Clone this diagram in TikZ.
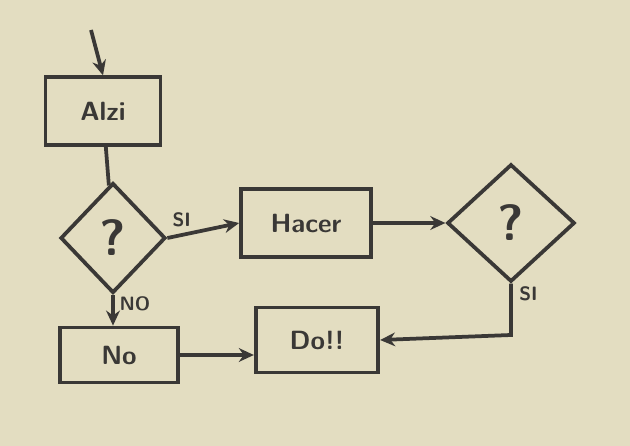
\documentclass[tikz,border=0pt]{standalone}
\usepackage{tikz}
\usetikzlibrary{positioning, arrows.meta, shapes.geometric}
\definecolor{papercolor}{RGB}{227,221,193}
\definecolor{inkcolor}{RGB}{58,56,54}

\begin{document}
\begin{tikzpicture}[x=0.4mm, y=-0.4mm,
    box/.style={draw=inkcolor, line width=1.5mm, minimum width=46mm, minimum height=26mm, inner sep=0pt, font=\sffamily\bfseries\fontsize{30}{30}\selectfont, text=inkcolor},
    ask/.style={diamond, draw=inkcolor, line width=1.5mm, inner sep=0pt, font=\sffamily\bfseries\fontsize{58}{58}\selectfont, text=inkcolor},
    flow/.style={draw=inkcolor, line width=1.5mm},
    tip/.style={-{Stealth[length=6mm, width=5.5mm]}},
    lbl/.style={font=\sffamily\bfseries\fontsize{22}{22}\selectfont, text=inkcolor},
]
    \fill[papercolor] (0,0) rectangle (630,446);
    \useasboundingbox (0,0) rectangle (630,446);
    \coordinate (entry) at (91,30);
    \node[box, minimum width=46mm, minimum height=27mm] (alzi) at (103,111) {Alzi};
    \node[ask, minimum width=42mm, minimum height=44mm] (cond1) at (113,238) {?};
    \node[box, minimum width=52mm, minimum height=27mm] (hacer) at (306,223) {Hacer};
    \node[ask, minimum width=51mm, minimum height=47mm] (cond2) at (511,223) {?};
    \node[box, minimum width=47mm, minimum height=22mm] (no) at (119,355) {No};
    \node[box, minimum width=49mm, minimum height=26mm] (doh) at (317,340) {Do!!};
    \coordinate (turn) at (511,335);
    \draw[flow, tip] (entry) -- (alzi.north);
    \draw[flow] (alzi) -- (cond1);
    \draw[flow, tip] (cond1.east) -- node[lbl, above=4pt, pos=0.2] {SI} (hacer.west);
    \draw[flow, tip] (hacer) -- (cond2);
    \draw[flow, tip] (cond1.south) -- node[lbl, right=2pt, pos=0.3] {NO} (cond1.south |- no.north);
    \draw[flow, tip] (no) -- (no -| doh.west);
    \draw[flow, tip] (cond2.south) -- node[lbl, right=4pt, pos=0.2] {SI} (turn) -- (doh.east);
\end{tikzpicture}
\end{document}
